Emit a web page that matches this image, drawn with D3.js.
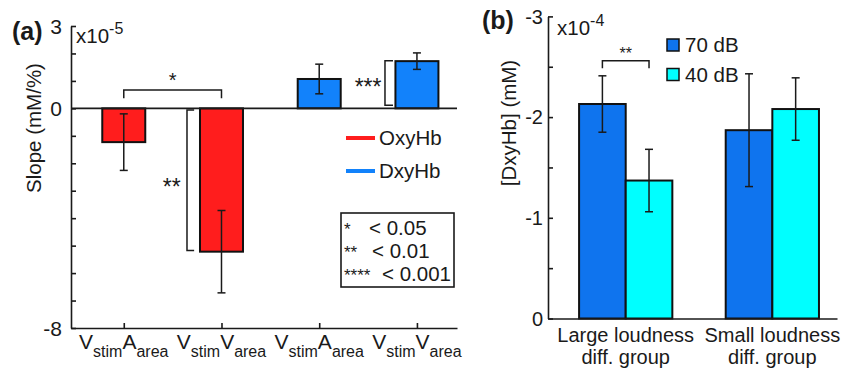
<!DOCTYPE html>
<html>
<head>
<meta charset="utf-8">
<script src="https://cdn.jsdelivr.net/npm/d3@7"></script>
<style>
  html, body { margin: 0; padding: 0; background: #fff; }
  svg text { font-family: "Liberation Sans", Arial, sans-serif; fill: #1a1a1a; }
</style>
</head>
<body>
<svg id="fig" width="842" height="374"></svg>
<script>
// ---- panel (a) data
const slopeCats = [1, 2, 3, 4];
const slopeStim = ["V", "V", "V", "V"];
const slopeArea = ["A", "V", "A", "V"];
const slopeSeries = ["OxyHb", "OxyHb", "DxyHb", "DxyHb"];
const slopeValues = [-1.23, -5.22, 1.07, 1.72];
const slopeErrors = [1.03, 1.5, 0.54, 0.3];
const slopeTicks = d3.range(-8, 4);
const slopeTickLabels = [3, 0, -8];
const seriesNames = ["OxyHb", "DxyHb"];
const sigLegend = [["*", "< 0.05"], ["**", "< 0.01"], ["****", "< 0.001"]];

// ---- panel (b) data
const groups = [["Large loudness", "diff. group"], ["Small loudness", "diff. group"]];
const levels = ["70 dB", "40 dB"];
const dxy70 = [-2.13, -1.87];
const dxy70Err = [0.28, 0.56];
const dxy40 = [-1.37, -2.08];
const dxy40Err = [0.31, 0.31];
const dxyTicks = [0, -0.5, -1, -1.5, -2, -2.5, -3];
const dxyTickLabels = [-3, -2, -1, 0];

const colors = { OxyHb: "#ff1d1d", DxyHb: "#1282fb", "70 dB": "#0f74ee", "40 dB": "#00ffff" };
const ink = "#1a1a1a";

const svg = d3.select("#fig");

const styleAxis = (g) => {
  g.selectAll("path, line").attr("stroke", ink).attr("stroke-width", 1.6);
  g.selectAll("text").remove();
};

const errorBar = (g, x, lo, hi) => {
  g.append("line").attr("x1", x).attr("x2", x).attr("y1", lo).attr("y2", hi);
  g.append("line").attr("x1", x - 4).attr("x2", x + 4).attr("y1", lo).attr("y2", lo);
  g.append("line").attr("x1", x - 4).attr("x2", x + 4).attr("y1", hi).attr("y2", hi);
  g.selectAll("line").attr("stroke", ink).attr("stroke-width", 1.5);
};

// =================== panel (a)
const xA = d3.scaleLinear().domain([0.46, 4.41]).range([71, 457]);
const yA = d3.scaleLinear().domain([-8, 3]).range([328, 26]);
const barW = 0.44;

const gA = svg.append("g");

// bars
gA.selectAll(".bar")
  .data(slopeCats)
  .enter()
  .append("rect")
  .attr("class", "bar")
  .attr("x", (d) => xA(d - barW / 2))
  .attr("width", xA(barW) - xA(0))
  .attr("y", (d, i) => yA(Math.max(0, slopeValues[i])))
  .attr("height", (d, i) => Math.abs(yA(slopeValues[i]) - yA(0)))
  .attr("fill", (d, i) => colors[slopeSeries[i]])
  .attr("stroke", "#111")
  .attr("stroke-width", 2);

slopeCats.forEach((c, i) => {
  errorBar(gA.append("g"), xA(c), yA(slopeValues[i] - slopeErrors[i]), yA(slopeValues[i] + slopeErrors[i]));
});

// axes
gA.append("g")
  .attr("transform", `translate(${xA.range()[0]},0)`)
  .call(d3.axisRight(yA).tickValues(slopeTicks).tickSize(5).tickSizeOuter(0))
  .call(styleAxis);
gA.append("g")
  .attr("transform", `translate(0,${yA(-8)})`)
  .call(d3.axisTop(xA).tickValues(slopeCats).tickSize(5).tickSizeOuter(0))
  .call(styleAxis);
gA.append("line")
  .attr("x1", xA.range()[0]).attr("x2", xA.range()[1])
  .attr("y1", yA(0)).attr("y2", yA(0))
  .attr("stroke", ink).attr("stroke-width", 1.6);

gA.selectAll(".ylab")
  .data(slopeTickLabels)
  .enter()
  .append("text")
  .attr("x", xA.range()[0] - 9)
  .attr("y", (d) => yA(d))
  .attr("dy", "0.36em")
  .attr("text-anchor", "end")
  .attr("font-size", 21)
  .text((d) => d);

const xlabA = gA.selectAll(".xlab")
  .data(slopeCats)
  .enter()
  .append("text")
  .attr("x", (d) => xA(d))
  .attr("y", 348.5)
  .attr("text-anchor", "middle")
  .attr("font-size", 21);
xlabA.append("tspan").text((d, i) => slopeStim[i]);
xlabA.append("tspan").attr("font-size", 16).attr("dy", 8).text("stim");
xlabA.append("tspan").attr("dy", -8).text((d, i) => slopeArea[i]);
xlabA.append("tspan").attr("font-size", 16).attr("dy", 8).text("area");

gA.append("text")
  .attr("transform", `translate(41,128) rotate(-90)`)
  .attr("text-anchor", "middle")
  .attr("font-size", 20.5)
  .text("Slope (mM/%)");

gA.append("text").attr("x", 12).attr("y", 40).attr("font-size", 25).attr("font-weight", "bold").text("(a)");
const expA = gA.append("text").attr("x", 76).attr("y", 43).attr("font-size", 20.5);
expA.append("tspan").text("x10");
expA.append("tspan").attr("font-size", 16).attr("dy", -9).text("-5");

// significance brackets
const bracket = (g, pts) => {
  g.append("path")
    .attr("d", d3.line()(pts))
    .attr("fill", "none")
    .attr("stroke", ink)
    .attr("stroke-width", 1.5);
};
bracket(gA, [[xA(1), yA(0.37)], [xA(1), yA(0.67)], [xA(2), yA(0.67)], [xA(2), yA(0.37)]]);
gA.append("text").attr("x", xA(1.5)).attr("y", yA(0.67) - 3).attr("text-anchor", "middle").attr("font-size", 20).text("*");

bracket(gA, [[xA(1.72), yA(-0.06)], [xA(1.647), yA(-0.06)], [xA(1.647), yA(-5.18)], [xA(1.72), yA(-5.18)]]);
gA.append("text").attr("x", xA(1.49)).attr("y", yA(-2.72) + 12).attr("text-anchor", "middle").attr("font-size", 23).text("**");

bracket(gA, [[xA(3.755), yA(1.73)], [xA(3.673), yA(1.73)], [xA(3.673), yA(0.11)], [xA(3.755), yA(0.11)]]);
gA.append("text").attr("x", xA(3.5)).attr("y", yA(0.92) + 12).attr("text-anchor", "middle").attr("font-size", 23).text("***");

// series legend
const legA = gA.selectAll(".legA")
  .data(seriesNames)
  .enter()
  .append("g")
  .attr("transform", (d, i) => `translate(346,${138 + i * 33})`);
legA.append("line")
  .attr("x1", 0).attr("x2", 29)
  .attr("stroke", (d) => colors[d])
  .attr("stroke-width", 4);
legA.append("text")
  .attr("x", 33)
  .attr("dy", "0.36em")
  .attr("font-size", 20.5)
  .text((d) => d);

// p-value box
gA.append("rect")
  .attr("x", 341).attr("y", 213).attr("width", 113).attr("height", 74)
  .attr("fill", "#fff").attr("stroke", ink).attr("stroke-width", 1.6);
const pRows = gA.selectAll(".prow")
  .data(sigLegend)
  .enter()
  .append("g")
  .attr("transform", (d, i) => `translate(0,${235 + i * 23})`);
pRows.append("text").attr("x", 344).attr("y", 0).attr("font-size", 17).text((d) => d[0]);
pRows.append("text")
  .attr("x", (d, i) => [369, 372, 382][i])
  .attr("y", 0)
  .attr("font-size", 20.5)
  .text((d) => d[1]);

// =================== panel (b)
const xB = d3.scaleLinear().domain([0.47, 2.441]).range([548, 837]);
const yB = d3.scaleLinear().domain([0, -3]).range([318.5, 16.4]);
const gw = 0.318;

const gB = svg.append("g");
const bData = [];
groups.forEach((g, i) => {
  bData.push({ g: i + 1, lvl: levels[0], off: -0.5, v: dxy70[i], e: dxy70Err[i] });
  bData.push({ g: i + 1, lvl: levels[1], off: 0.5, v: dxy40[i], e: dxy40Err[i] });
});

gB.selectAll(".barb")
  .data(bData)
  .enter()
  .append("rect")
  .attr("class", "barb")
  .attr("x", (d) => xB(d.g + (d.off - 0.5) * gw))
  .attr("width", xB(gw) - xB(0))
  .attr("y", (d) => yB(d.v))
  .attr("height", (d) => yB(0) - yB(d.v))
  .attr("fill", (d) => colors[d.lvl])
  .attr("stroke", "#111")
  .attr("stroke-width", 2);

bData.forEach((d) => {
  const cx = xB(d.g + d.off * gw);
  errorBar(gB.append("g"), cx, yB(d.v - d.e), yB(d.v + d.e));
});

gB.append("g")
  .attr("transform", `translate(${xB.range()[0]},0)`)
  .call(d3.axisRight(yB).tickValues(dxyTicks).tickSize(5).tickSizeOuter(0))
  .call(styleAxis);
gB.append("g")
  .attr("transform", `translate(0,${yB(0)})`)
  .call(d3.axisTop(xB).tickValues([]).tickSizeOuter(0))
  .call(styleAxis);

gB.selectAll(".ylabb")
  .data(dxyTickLabels)
  .enter()
  .append("text")
  .attr("x", xB.range()[0] - 5)
  .attr("y", (d) => yB(d))
  .attr("dy", "0.36em")
  .attr("text-anchor", "end")
  .attr("font-size", 20)
  .text((d) => d);

const xlabB = gB.selectAll(".xlabb")
  .data(groups)
  .enter()
  .append("text")
  .attr("text-anchor", "middle")
  .attr("font-size", 20);
xlabB.append("tspan").attr("x", (d, i) => xB(i + 1)).attr("y", 342).text((d) => d[0]);
xlabB.append("tspan").attr("x", (d, i) => xB(i + 1)).attr("y", 364).text((d) => d[1]);

gB.append("text")
  .attr("transform", `translate(516,123) rotate(-90)`)
  .attr("text-anchor", "middle")
  .attr("font-size", 20.5)
  .text("[DxyHb] (mM)");

gB.append("text").attr("x", 482).attr("y", 29).attr("font-size", 25).attr("font-weight", "bold").text("(b)");
const expB = gB.append("text").attr("x", 557).attr("y", 35).attr("font-size", 20.5);
expB.append("tspan").text("x10");
expB.append("tspan").attr("font-size", 16).attr("dy", -9).text("-4");

bracket(gB, [[xB(1 - gw / 2), yB(-2.485)], [xB(1 - gw / 2), yB(-2.56)], [xB(1 + gw / 2), yB(-2.56)], [xB(1 + gw / 2), yB(-2.485)]]);
gB.append("text").attr("x", xB(1)).attr("y", yB(-2.56) - 2).attr("text-anchor", "middle").attr("font-size", 16).text("**");

const legB = gB.selectAll(".legB")
  .data(levels)
  .enter()
  .append("g")
  .attr("transform", (d, i) => `translate(667,${39 + i * 29.5})`);
legB.append("rect")
  .attr("width", 12).attr("height", 12)
  .attr("fill", (d) => colors[d])
  .attr("stroke", "#111").attr("stroke-width", 1.5);
legB.append("text")
  .attr("x", 18).attr("y", 13)
  .attr("font-size", 20.5)
  .text((d) => d);
</script>
</body>
</html>
